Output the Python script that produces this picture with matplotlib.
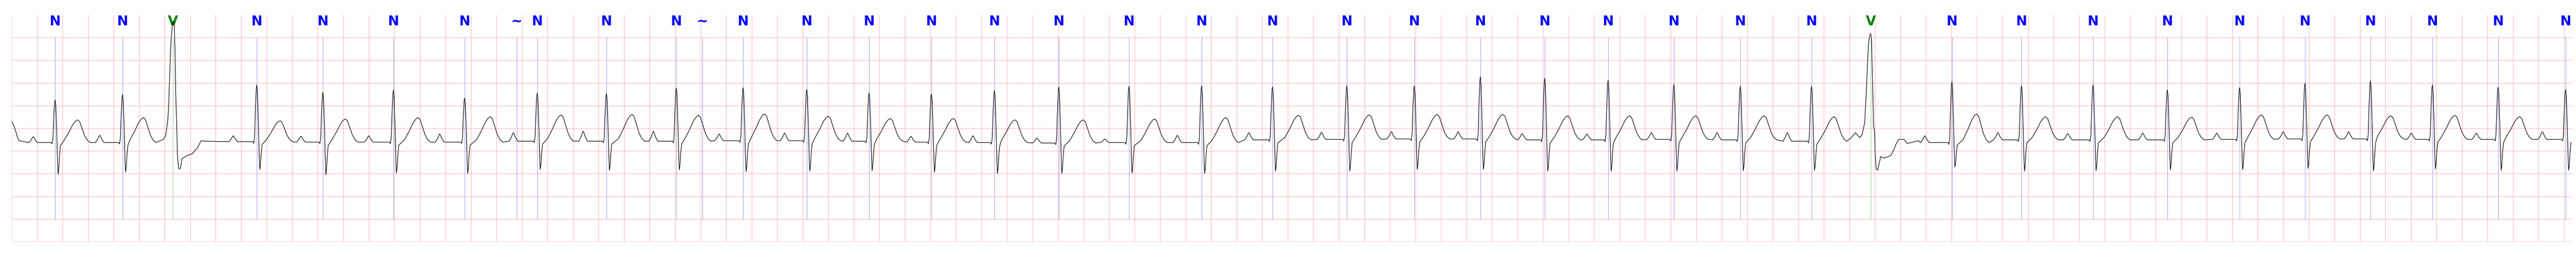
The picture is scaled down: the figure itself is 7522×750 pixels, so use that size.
import numpy as np
import matplotlib
matplotlib.use('Agg')
import matplotlib.pyplot as plt

# beat annotations (time in s, symbol)
ann_time = [0.3408, 0.8693, 1.2638, 1.9211, 2.4390, 2.9917, 3.5498, 3.9576, 4.1186, 4.6606,
            5.2080, 5.4119, 5.7312, 6.2302, 6.7185, 7.2069, 7.7005, 8.2050, 8.7550, 9.3238,
            9.8793, 10.4615, 10.9901, 11.5079, 12.0123, 12.5087, 13.0239, 13.5444, 14.1025, 14.5667,
            15.2026, 15.7473, 16.3081, 16.8903, 17.4564, 17.9689, 18.4814, 18.9670, 19.4821, 20.0107]
ann_sym = ['N', 'N', 'V', 'N', 'N', 'N', 'N', '~', 'N', 'N',
           'N', '~', 'N', 'N', 'N', 'N', 'N', 'N', 'N', 'N',
           'N', 'N', 'N', 'N', 'N', 'N', 'N', 'N', 'N', 'V',
           'N', 'N', 'N', 'N', 'N', 'N', 'N', 'N', 'N', 'N']

# normal beats, values (mV)
r_time = [0.3408, 0.8693, 1.9211, 2.4390, 2.9917, 3.5498, 4.1186, 4.6606, 5.2080, 5.7312,
          6.2302, 6.7185, 7.2069, 7.7005, 8.2050, 8.7550, 9.3238, 9.8793, 10.4615, 10.9901,
          11.5079, 12.0123, 12.5087, 13.0239, 13.5444, 14.1025, 15.2026, 15.7473, 16.3081, 16.8903,
          17.4564, 17.9689, 18.4814, 18.9670, 19.4821, 20.0107]
r_amp = [0.63, 0.75, 0.96, 0.80, 0.85, 0.67, 0.78, 0.77, 0.89, 0.90,
         0.86, 0.78, 0.76, 0.84, 0.91, 0.93, 0.94, 0.92, 0.94, 0.94,
         1.14, 1.11, 1.06, 0.97, 0.93, 0.93, 1.03, 0.94, 0.96, 0.85,
         0.90, 1.00, 1.05, 0.96, 0.91, 0.86]
s_amp = [-1.01, -0.96, -0.90, -1.02, -0.98, -0.99, -0.90, -0.92, -0.91, -0.95,
         -0.94, -0.93, -0.96, -0.99, -0.99, -0.98, -0.99, -0.94, -0.94, -0.90,
         -0.90, -0.94, -0.94, -0.94, -0.93, -0.92, -0.85, -0.94, -0.93, -0.91,
         -0.91, -0.88, -0.93, -0.89, -0.92, -0.92]
t_time = [0.518, 1.033, 2.104, 2.616, 3.185, 3.751, 4.306, 4.862, 5.382, 5.900,
          6.399, 6.885, 7.379, 7.862, 8.396, 8.956, 9.514, 10.083, 10.638, 11.170,
          11.685, 12.192, 12.678, 13.196, 13.732, 14.280, 15.396, 15.937, 16.501, 17.081,
          17.628, 18.143, 18.642, 19.144, 19.651, np.nan]
t_amp = [0.19, 0.24, 0.17, 0.21, 0.24, 0.26, 0.30, 0.31, 0.29, 0.32,
         0.27, 0.22, 0.22, 0.19, 0.19, 0.21, 0.24, 0.29, 0.30, 0.31,
         0.31, 0.28, 0.28, 0.28, 0.28, 0.26, 0.32, 0.26, 0.26, 0.25,
         0.30, 0.30, 0.28, 0.29, 0.26, np.nan]
p_time = [0.169, 0.690, 1.736, 2.267, 2.798, 3.354, 3.931, 4.478, 5.028, 5.543,
          6.056, 6.549, 7.046, 7.532, 8.033, 8.565, 9.133, 9.694, 10.263, 10.810,
          11.333, 11.835, 12.342, 12.847, 13.362, 13.912, 14.990, 15.562, 16.109, 16.697,
          17.277, 17.797, 18.310, 18.801, 19.311, 19.828]
p_amp = [-0.18, -0.15, -0.16, -0.17, -0.16, -0.12, -0.09, -0.06, -0.06, -0.12,
         -0.10, -0.10, -0.17, -0.16, -0.21, -0.23, -0.15, -0.09, -0.08, -0.07,
         -0.07, -0.11, -0.12, -0.09, -0.09, -0.09, -0.16, -0.09, -0.11, -0.10,
         -0.10, -0.07, -0.07, -0.10, -0.10, -0.07]
base = [-0.31, -0.31, -0.29, -0.30, -0.30, -0.30, -0.28, -0.28, -0.28, -0.27,
        -0.27, -0.28, -0.30, -0.31, -0.32, -0.31, -0.31, -0.25, -0.24, -0.23,
        -0.23, -0.25, -0.25, -0.24, -0.25, -0.28, -0.31, -0.25, -0.25, -0.25,
        -0.24, -0.23, -0.23, -0.24, -0.24, -0.24]

# wave shapes read from a typical beat (offset s, fraction of wave height)
p_dt = [-0.034, -0.016, -0.006, 0.0, 0.006, 0.016, 0.034]
p_shape = [0.0, 0.45, 0.85, 1.0, 0.85, 0.45, 0.0]
qrs_dt = [-0.032, -0.024, -0.0174, -0.0115, -0.0046, 0.0, 0.0046, 0.0118,
          0.0188, 0.0231, 0.0279, 0.0341, 0.0413]
qrs_shape = [0.0, -0.03, 0.09, 0.55, 0.94, 1.0, 0.88, 0.33,
             0.56, 1.0, 0.85, 0.43, 0.1]
qrs_ref = ['r'] * 8 + ['s'] * 5
t_dt = [-0.107, -0.070, -0.038, -0.015, 0.0, 0.015, 0.032, 0.054, 0.075, 0.097]
t_shape = [0.1, 0.45, 0.8, 0.96, 1.0, 0.92, 0.65, 0.3, 0.1, 0.0]

# start of strip (end of a T wave) and the two PVCs
start_t = [0.0, 0.019, 0.032, 0.046, 0.059]
start_v = [0.16, 0.05, -0.06, -0.20, -0.27]
pvc1_t = [1.1886, 1.2074, 1.2235, 1.2316, 1.2369, 1.2450, 1.2503, 1.2584, 1.2664, 1.2745,
          1.2799, 1.2852, 1.2906, 1.2986, 1.3067, 1.3120, 1.3201, 1.3282, 1.3335, 1.3711,
          1.4140, 1.4569, 1.4838, 1.5187, 1.6877]
pvc1_v = [-0.24, -0.15, 0.19, 0.57, 1.07, 1.70, 2.00, 2.26, 2.37, 2.26,
          1.70, 0.82, 0.32, -0.55, -0.85, -0.89, -0.89, -0.80, -0.67, -0.60,
          -0.56, -0.42, -0.27, -0.28, -0.29]
pvc2_t = [14.411, 14.446, 14.478, 14.497, 14.507, 14.518, 14.529, 14.540, 14.548, 14.558,
          14.566, 14.572, 14.580, 14.588, 14.596, 14.601, 14.609, 14.620, 14.631, 14.644,
          14.671, 14.722, 14.743, 14.765, 14.784, 14.827, 14.851, 14.940]
pvc2_v = [-0.21, -0.09, -0.20, -0.15, -0.02, 0.12, 0.67, 1.39, 1.86, 2.06,
          2.09, 1.94, 1.03, 0.05, -0.06, -0.60, -0.89, -0.92, -0.78, -0.62,
          -0.65, -0.60, -0.49, -0.34, -0.24, -0.24, -0.33, -0.27]

t_end = 20.056


def build_trace():
    pts = list(zip(start_t, start_v))
    for i in range(len(r_time)):
        b = base[i]
        for dt, f in zip(p_dt, p_shape):
            pts.append((p_time[i] + dt, b + f * (p_amp[i] - b)))
        for dt, f, w in zip(qrs_dt, qrs_shape, qrs_ref):
            ref = r_amp[i] if w == 'r' else s_amp[i]
            pts.append((r_time[i] + dt, b + f * (ref - b)))
        if not np.isnan(t_time[i]):
            for dt, f in zip(t_dt, t_shape):
                pts.append((t_time[i] + dt, b + f * (t_amp[i] - b)))
    pts += list(zip(pvc1_t, pvc1_v))
    pts += list(zip(pvc2_t, pvc2_v))
    pts.sort()
    pts = [p for p in pts if p[0] <= t_end]
    x = np.array([p[0] for p in pts])
    y = np.array([p[1] for p in pts])
    return x, y


x, y = build_trace()

fig = plt.figure(figsize=(75.22, 7.5), dpi=100)
ax = fig.add_axes([34 / 7522, 44 / 750, 7477 / 7522, 662 / 750])

ax.set_xlim(0, 20.062)
ax.set_ylim(-2.5, 2.5)
ax.set_xticks(np.arange(0, 20.01, 0.2))
ax.set_yticks(np.arange(-2.5, 2.01, 0.5))
ax.grid(True, color='red', alpha=0.28, lw=1.1)
ax.tick_params(length=0, labelbottom=False, labelleft=False)
for s in ax.spines.values():
    s.set_visible(False)

for t, sym in zip(ann_time, ann_sym):
    c = 'green' if sym == 'V' else 'blue'
    ax.vlines(t, -2, 2, color=c, lw=0.7, alpha=0.55)
    ax.text(t, 2.5, sym, ha='center', va='top', color=c, fontsize=28, fontweight='bold',
            family=['Liberation Sans Narrow', 'DejaVu Sans'])

ax.plot(x, y, color='black', lw=1.2, zorder=5)

fig.savefig('out.png', dpi=100)
